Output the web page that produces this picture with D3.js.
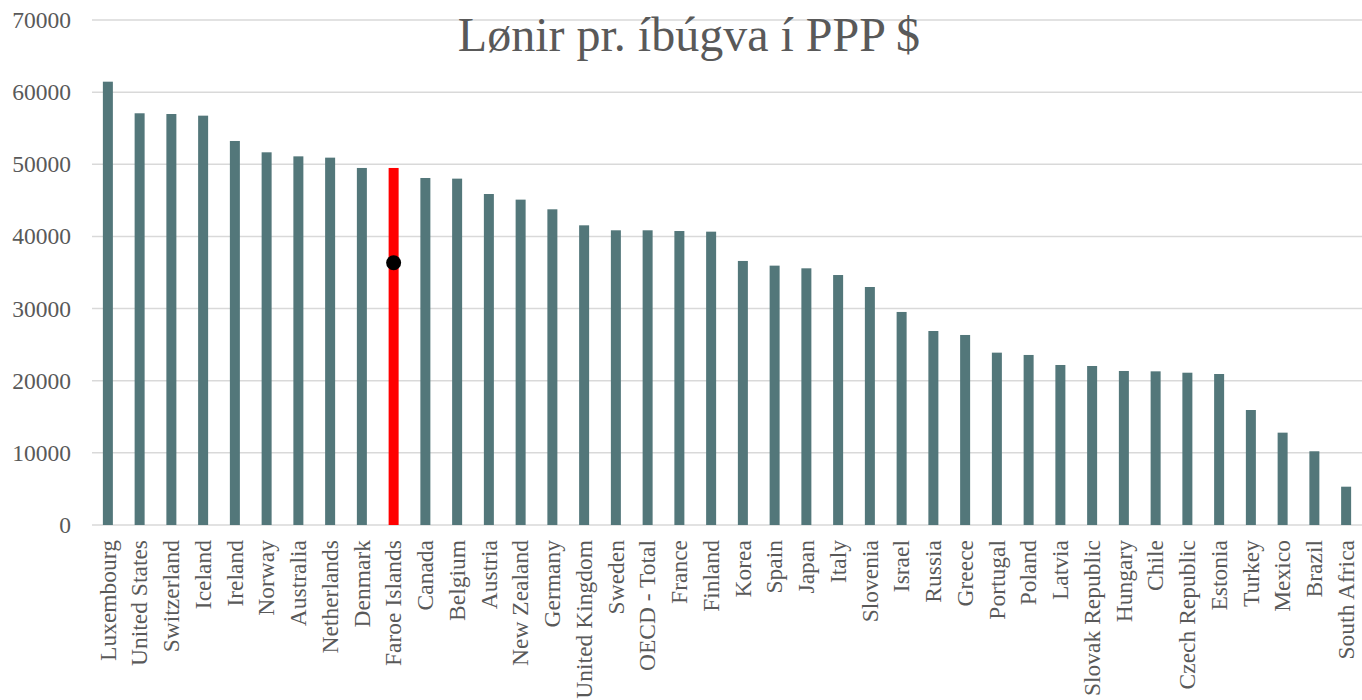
<!DOCTYPE html>
<html>
<head>
<meta charset="utf-8">
<script src="https://cdn.jsdelivr.net/npm/d3@7"></script>
<style>
  html, body { margin: 0; padding: 0; background: #fff; }
  text { font-family: "Liberation Serif", "Times New Roman", serif; fill: #595959; }
</style>
</head>
<body>
<svg id="chart" width="1362" height="700"></svg>
<script>
const categories = ["Luxembourg","United States","Switzerland","Iceland","Ireland","Norway","Australia","Netherlands","Denmark","Faroe Islands","Canada","Belgium","Austria","New Zealand","Germany","United Kingdom","Sweden","OECD - Total","France","Finland","Korea","Spain","Japan","Italy","Slovenia","Israel","Russia","Greece","Portugal","Poland","Latvia","Slovak Republic","Hungary","Chile","Czech Republic","Estonia","Turkey","Mexico","Brazil","South Africa"];
const values = [61450,57070,56970,56740,53230,51660,51100,50920,49490,49490,48100,48010,45880,45100,43760,41540,40850,40850,40750,40660,36600,35950,35580,34650,32990,29530,26890,26340,23890,23570,22180,22040,21350,21300,21110,20930,15940,12800,10220,5310];
const highlight = "Faroe Islands";
const markerCategory = "Faroe Islands";
const markerValue = 36360;
const yTicks = [0,10000,20000,30000,40000,50000,60000,70000];
const title = "Lønir pr. íbúgva í PPP $";

(function () {
const svg = d3.select("#chart");
const mLeft = 92, mRight = 1362, mTop = 20, mBottom = 525;

const x = d3.scaleBand().domain(categories).range([mLeft, mRight]).paddingInner(0.685).paddingOuter(0.3425);
const y = d3.scaleLinear().domain([0, 70000]).range([mBottom, mTop]);

// gridlines
svg.append("g").selectAll("line").data(yTicks).join("line")
  .attr("x1", mLeft).attr("x2", mRight)
  .attr("y1", d => y(d)).attr("y2", d => y(d))
  .attr("stroke", "#d9d9d9").attr("stroke-width", 1.5);

// y axis labels
const yAxis = d3.axisLeft(y).tickValues(yTicks).tickSize(0).tickPadding(0).tickFormat(d3.format("d"));
const ya = svg.append("g").attr("transform", `translate(71,0)`).call(yAxis);
ya.attr("font-family", null);
ya.select(".domain").remove();
ya.selectAll("text").attr("font-size", "23.5px").attr("fill", "#595959")
  .style("font-family", "'Liberation Serif', 'Times New Roman', serif");

// bars
svg.append("g").selectAll("rect").data(categories).join("rect")
  .attr("x", d => x(d)).attr("width", x.bandwidth())
  .attr("y", (d, i) => y(values[i]))
  .attr("height", (d, i) => y(0) - y(values[i]))
  .attr("fill", d => d === highlight ? "#ff0000" : "#53777a");

// marker
svg.append("circle")
  .attr("cx", x(markerCategory) + x.bandwidth() / 2)
  .attr("cy", y(markerValue))
  .attr("r", 7.5).attr("fill", "#000");

// x labels
const xAxis = d3.axisBottom(x).tickSize(0).tickPadding(0);
const xa = svg.append("g").attr("transform", `translate(0,${mBottom})`).call(xAxis);
xa.attr("font-family", null);
xa.select(".domain").remove();
xa.selectAll("text")
  .attr("font-size", "23.5px").attr("fill", "#595959")
  .style("font-family", "'Liberation Serif', 'Times New Roman', serif")
  .attr("text-anchor", "end")
  .attr("transform", "translate(0,15) rotate(-90)")
  .attr("x", 0).attr("y", 0).attr("dy", "0.33em");

// title
svg.append("text").attr("x", 689).attr("y", 51)
  .attr("text-anchor", "middle").attr("font-size", "48px").attr("fill", "#595959")
  .text(title);
})();
</script>
</body>
</html>
